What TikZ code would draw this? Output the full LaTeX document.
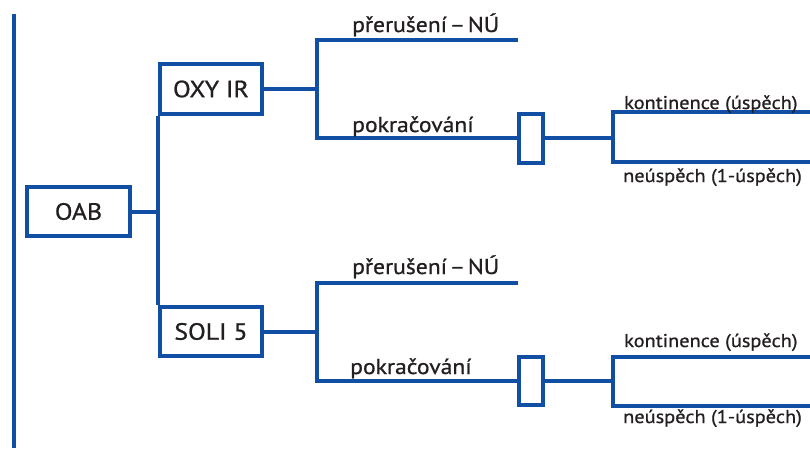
\documentclass[tikz,border=0pt]{standalone}
\usepackage{fontspec}
\setmainfont{PT Sans}[FakeStretch=1.1, RawFeature={embolden=0.8}]
\definecolor{treeblue}{RGB}{16,79,163}
\definecolor{ink}{RGB}{35,31,32}
\newcommand{\tightdash}{\hspace{0.12em}–\hspace{0.12em}}
\begin{document}
\begin{tikzpicture}[x=1pt,y=-1pt,
  wire/.style={draw=treeblue,line width=4pt},
  armbox/.style={draw=treeblue,line width=4pt,fill=white,inner sep=0pt,
    minimum width=102pt,minimum height=50pt,font=\fontsize{23.5}{28}\selectfont,text=ink},
  gatebox/.style={draw=treeblue,line width=4pt,fill=white,inner sep=0pt,
    minimum width=24pt,minimum height=49pt},
  lbl/.style={anchor=base west,inner sep=0pt,font=\fontsize{18.5}{22}\selectfont,text=ink},
  biglbl/.style={lbl,font=\fontsize{21.5}{26}\selectfont}]
\useasboundingbox (0,0) rectangle (810,448);

% left margin rule
\coordinate (railtop) at (14,14);
\coordinate (railbot) at (14,448);
\draw[wire] (railtop) -- (railbot);

% arm boxes
\node[armbox,minimum width=103pt,minimum height=49pt] (oab) at (78.5,211.5) {OAB};
\node[armbox] (oxy) at (211,89) {OXY IR};
\node[armbox,minimum height=49pt] (soli) at (211,331.5) {SOLI 5};

% gate boxes on the continuation branches
\node[gatebox] (g1) at (531,138) {};
\node[gatebox,minimum height=48pt] (g2) at (531,381) {};

% root to arms
\draw[wire] (oxy.south west) -- (soli.north west);
\draw[wire] (oab.east) -- (oab.east -| oxy.west);

% branch points
\coordinate (f1) at (317,89);
\coordinate (f2) at (317,332);
\coordinate (stop1) at (518,40);
\coordinate (stop2) at (518,283);
\coordinate (o1) at (613,138);
\coordinate (o2) at (613,381);
\coordinate (ok1) at (810,112);
\coordinate (bad1) at (810,161.5);
\coordinate (ok2) at (810,356.5);
\coordinate (bad2) at (810,405.5);

% OXY IR subtree
\draw[wire] (oxy.east) -- (oxy.east -| f1);
\draw[wire] (stop1) -- (stop1 -| f1) -- (f1 |- g1.west) -- (g1.west);
\draw[wire] (g1.east) -- (o1);
\draw[wire] (ok1) -- (ok1 -| o1) -- (o1 |- bad1) -- (bad1);

% SOLI 5 subtree
\draw[wire] (soli.east) -- (soli.east -| f2);
\draw[wire] (stop2) -- (stop2 -| f2) -- (f2 |- g2.west) -- (g2.west);
\draw[wire] (g2.east) -- (o2);
\draw[wire] (ok2) -- (ok2 -| o2) -- (o2 |- bad2) -- (bad2);

% branch labels
\node[biglbl] (l1) at (352,32) {přerušení\tightdash NÚ};
\node[biglbl] (l2) at (352,132) {pokračování};
\node[lbl] (l3) at (624,109) {kontinence (úspěch)};
\node[lbl] (l4) at (623,182) {neúspěch (1-úspěch)};
\node[biglbl] (l5) at (352,274) {přerušení\tightdash NÚ};
\node[biglbl] (l6) at (350,374) {pokračování};
\node[lbl] (l7) at (624,347) {kontinence (úspěch)};
\node[lbl] (l8) at (623,423) {neúspěch (1-úspěch)};
\end{tikzpicture}
\end{document}
